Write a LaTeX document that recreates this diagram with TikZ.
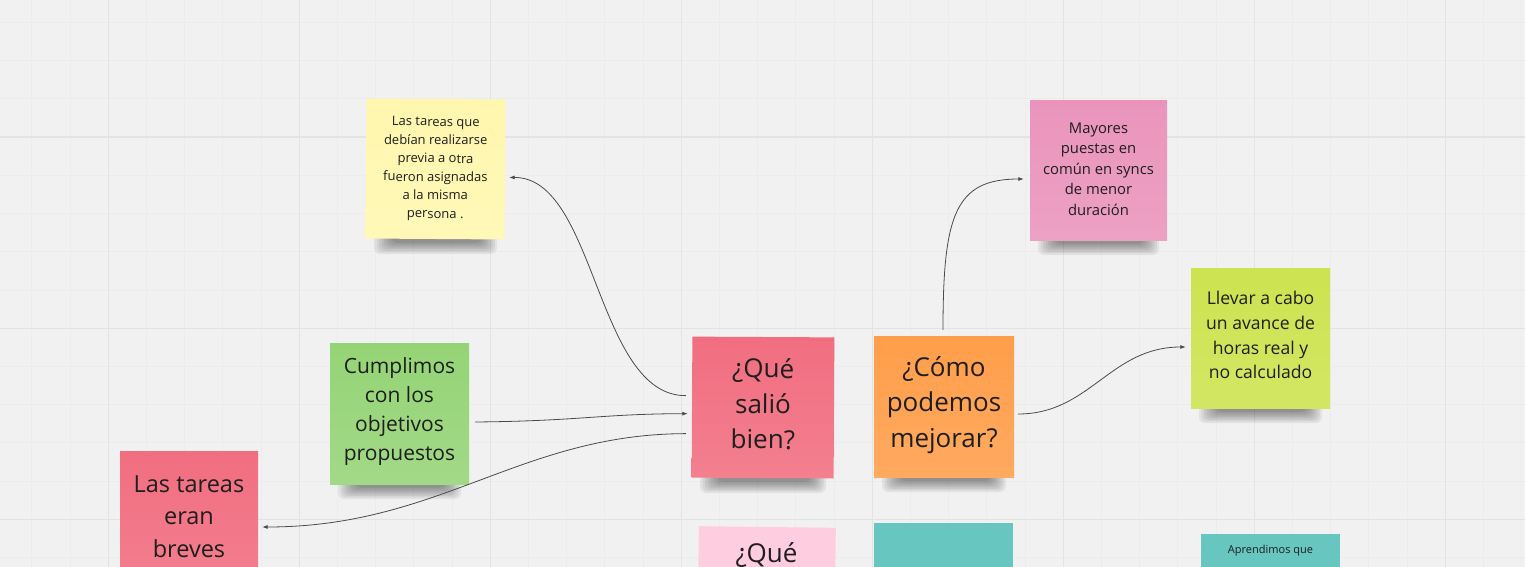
\documentclass[tikz,border=0pt]{standalone}
\usepackage{fontspec}
\setmainfont{Open Sans}
\usetikzlibrary{arrows.meta,calc}
\definecolor{bg}{HTML}{F1F1F1}
\definecolor{gminor}{HTML}{ECECEC}
\definecolor{gmajor}{HTML}{E3E3E3}
\definecolor{txt}{HTML}{1E1E1E}
\definecolor{cyellow}{HTML}{FFF7AE}
\definecolor{cmag}{HTML}{EA94BC}
\definecolor{clime}{HTML}{CDE34F}
\definecolor{cgreen}{HTML}{95D476}
\definecolor{cred}{HTML}{F16E80}
\definecolor{corange}{HTML}{FF9E4A}
\definecolor{cpink}{HTML}{FFCDE0}
\definecolor{cteal}{HTML}{67C6C0}
\definecolor{link}{HTML}{4A4A4A}
\newcommand\noteshadow[3]{%
  \foreach \k in {0,...,7}{%
    \fill[black,opacity=0.06,rounded corners=6pt] ({#1-#3/2+8+2.5*\k},{#2-8}) rectangle ({#1+#3/2-8-2.2*\k},{#2+15-1.6*\k});}}
\tikzset{
  note/.style={minimum width=139pt, minimum height=140pt, inner sep=0pt, align=center, text=txt, draw=none},
  shadedA/.style={top color=#1, bottom color=#1!88!white},
  link/.style={draw=link, line width=0.8pt, -{Latex[length=5.5pt,width=4pt]}},
  tiny/.style={font=\fontsize{13}{18.4}\selectfont},
  small/.style={font=\fontsize{14.8}{20.5}\selectfont},
  mid/.style={font=\fontsize{17.6}{24.7}\selectfont},
  big/.style={font=\fontsize{21}{29.3}\selectfont},
  large/.style={font=\fontsize{23.5}{32.5}\selectfont},
  huge/.style={font=\fontsize{26}{35.5}\selectfont},
}
\begin{document}
\begin{tikzpicture}[x=1pt,y=-1pt]
\useasboundingbox (0,0) rectangle (1525,567);
\begin{scope}
\clip (0,0) rectangle (1525,567);
\fill[bg] (0,0) rectangle (1525,567);
\foreach \i in {0,...,40} \draw[gminor,line width=0.6pt] ({-6.6+38.2*\i},0) -- ++(0,567);
\foreach \j in {0,...,15} \draw[gminor,line width=0.6pt] (0,{-15.8+38.2*\j}) -- ++(1525,0);
\foreach \i in {0,...,7} \draw[gmajor,line width=1pt] ({108+191*\i},0) -- ++(0,567);
\foreach \j in {0,...,2} \draw[gmajor,line width=1pt] (0,{137+191*\j}) -- ++(1525,0);

% shadows
\noteshadow{435.5}{239}{139}
\noteshadow{1098.5}{240}{137}
\noteshadow{1260.5}{408}{139}
\noteshadow{399.5}{484}{139}
\noteshadow{763}{478}{142}
\noteshadow{944}{477}{140}

% notes
\node[note, shadedA=cyellow, rotate=-0.4, tiny] (yellow) at (435.5,169)
  {Las tareas que\\debían realizarse\\previa a otra\\fueron asignadas\\a la misma\\persona .};
\node[note, shadedA=cmag, minimum width=137pt, minimum height=139pt, small, text depth=3pt] (mayores) at (1098.5,170.5)
  {Mayores\\puestas en\\común en syncs\\de menor\\duración};
\node[note, shadedA=clime, mid, text depth=6pt] (lime) at (1260.5,338)
  {Llevar a cabo\\un avance de\\horas real y\\no calculado};
\node[note, shadedA=cgreen, minimum height=141pt, big, text depth=9pt] (green) at (399.5,413.5)
  {Cumplimos\\con los\\objetivos\\propuestos};
\node[note, shadedA=cred, minimum width=142pt, minimum height=141pt, rotate=-0.3, huge, text depth=8pt] (salio) at (763,407.5)
  {¿Qué\\salió\\bien?};
\node[note, shadedA=corange, minimum width=140pt, minimum height=141pt, huge, text depth=9pt] (mejorar) at (944,406.5)
  {¿Cómo\\podemos\\mejorar?};
\node[note, shadedA=cred, minimum width=138pt, large, text depth=9pt] (breves) at (189,521)
  {Las tareas\\eran\\breves};
\node[note, fill=cpink, minimum width=137pt, rotate=-0.7] (pinkq) at (766.5,597) {};
\node[huge, text=txt] (pinkqt) at (766.5,555) {¿Qué};
\node[note, fill=cteal] (teal) at (943.5,593) {};
\node[note, fill=cteal] (tealsmall) at (1270.5,604) {};
\node[font=\fontsize{11}{15}\selectfont, text=txt] (tealtxt) at (1270.5,551) {Aprendimos que};

% connectors
\draw[link] ($(salio.west)+(-6,-11.5)$) .. controls (596,396) and (596,177) .. ($(yellow.east)+(4,8)$);
\draw[link] ($(green.east)+(6,8.5)$) .. controls (580,421) and (600,414) .. ($(salio.west)+(-4,6.5)$);
\draw[link] ($(salio.west)+(-6,26.5)$) .. controls (520,434) and (440,527) .. ($(breves.east)+(4,6)$);
\draw[link] ($(mejorar.north)+(-1,-6)$) .. controls (943,215) and (955,179) .. ($(mayores.west)+(-6,8.5)$);
\draw[link] ($(mejorar.east)+(4,7.5)$) .. controls (1090,414) and (1110,347) .. ($(lime.west)+(-5,9)$);
\end{scope}
\end{tikzpicture}
\end{document}
